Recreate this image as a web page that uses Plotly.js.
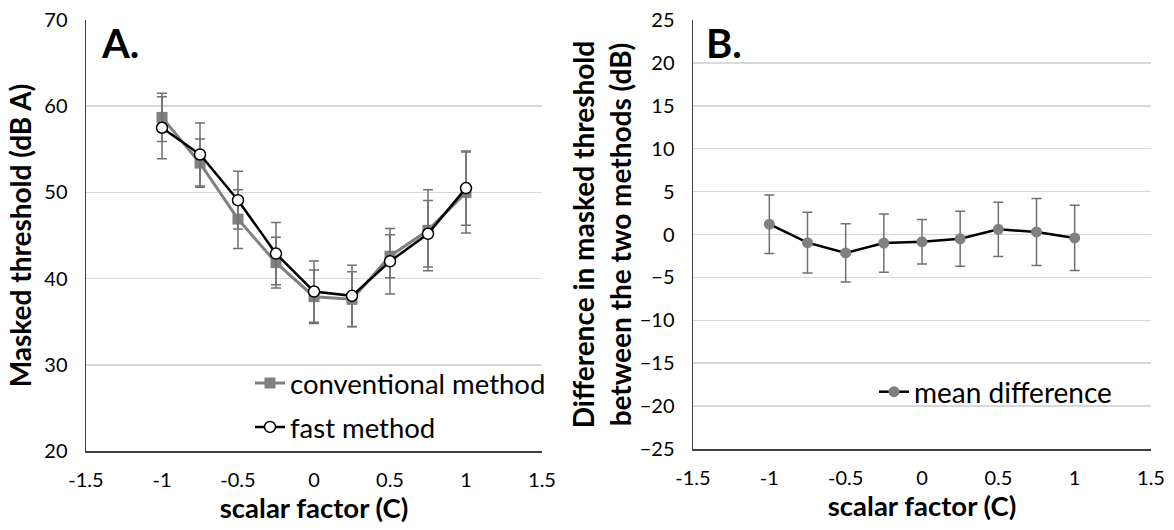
<!DOCTYPE html>
<html>
<head>
<meta charset="utf-8">
<script src="https://cdn.plot.ly/plotly-3.0.1.min.js"></script>
<style>html,body{margin:0;padding:0;background:#fff;}#chart{width:1174px;height:530px;}</style>
</head>
<body>
<div id="chart"></div>
<script>
// scalar factor C
const scalarFactor = [-1, -0.75, -0.5, -0.25, 0, 0.25, 0.5, 0.75, 1];
// Panel A: masked threshold (dB A)
const conventional = [58.7, 53.4, 46.9, 41.85, 37.9, 37.6, 42.6, 45.6, 50.0];
const conventionalErr = [2.8, 2.8, 3.4, 2.95, 3.1, 3.2, 2.5, 4.7, 4.7];
const fast = [57.5, 54.4, 49.1, 42.9, 38.5, 38.0, 42.0, 45.2, 50.5];
const fastErr = [3.6, 3.65, 3.35, 3.6, 3.55, 3.55, 3.8, 3.85, 4.3];
// Panel B: difference between the two methods (dB)
const meanDiff = [1.2, -0.95, -2.15, -1.0, -0.85, -0.5, 0.6, 0.3, -0.4];
const meanDiffErr = [3.4, 3.55, 3.4, 3.4, 2.6, 3.2, 3.15, 3.9, 3.8];
const xTicks = [-1.5, -1, -0.5, 0, 0.5, 1, 1.5];
const xTickText = ['-1.5', '-1', '-0.5', '0', '0.5', '1', '1.5'];

const FONT = 'Lato, Carlito, Calibri, sans-serif';
const errStyle = {type: 'data', visible: true, color: '#707070', thickness: 1.5, width: 5};

const traces = [
  {
    x: scalarFactor, y: conventional, name: 'conventional method',
    type: 'scatter', mode: 'lines+markers', xaxis: 'x', yaxis: 'y', legend: 'legend',
    line: {color: '#808080', width: 3},
    marker: {symbol: 'square', size: 11, color: '#808080'},
    error_y: Object.assign({array: conventionalErr}, errStyle)
  },
  {
    x: scalarFactor, y: fast, name: 'fast method',
    type: 'scatter', mode: 'lines+markers', xaxis: 'x', yaxis: 'y', legend: 'legend2',
    line: {color: '#000000', width: 2.5},
    marker: {symbol: 'circle', size: 11, color: '#ffffff', line: {color: '#000000', width: 1.5}},
    error_y: Object.assign({array: fastErr}, errStyle)
  },
  {
    x: scalarFactor, y: meanDiff, name: 'mean difference',
    type: 'scatter', mode: 'lines+markers', xaxis: 'x2', yaxis: 'y2', legend: 'legend3',
    line: {color: '#000000', width: 2.5},
    marker: {symbol: 'circle', size: 11, color: '#808080'},
    error_y: Object.assign({array: meanDiffErr}, errStyle)
  }
];

const axisX = {
  range: [-1.5, 1.5], tickvals: xTicks, ticktext: xTickText,
  showgrid: false, zeroline: false, showline: true, linecolor: '#404040', linewidth: 1.5,
  ticks: 'outside', ticklen: 10, tickcolor: 'rgba(0,0,0,0)',
  tickfont: {family: FONT, size: 20, color: '#000'},
  fixedrange: true
};
const axisY = {
  showgrid: true, gridcolor: '#d9d9d9', gridwidth: 1.5, zeroline: false,
  showline: true, linecolor: '#404040', linewidth: 1.5,
  ticks: 'outside', ticklen: 13, tickcolor: 'rgba(0,0,0,0)',
  tickfont: {family: FONT, size: 20, color: '#000'},
  fixedrange: true
};
const titleFontX = {family: FONT, size: 27.5, color: '#000', weight: 'bold'};
const titleFontY = {family: FONT, size: 28, color: '#000', weight: 'bold'};

const layout = {
  width: 1174, height: 530,
  margin: {l: 0, r: 0, t: 20, b: 79},
  paper_bgcolor: '#fff', plot_bgcolor: '#fff',
  font: {family: FONT, color: '#000'},
  xaxis: Object.assign({}, axisX, {domain: [86/1174, 542/1174], anchor: 'y',
    title: {text: 'scalar factor (C)', font: titleFontX, standoff: 4}}),
  yaxis: Object.assign({}, axisY, {domain: [0, 1], anchor: 'x', range: [20, 70], tickvals: [20, 30, 40, 50, 60, 70],
    title: {text: 'Masked threshold (dB A)', font: titleFontY, standoff: 4}}),
  xaxis2: Object.assign({}, axisX, {domain: [693/1174, 1151/1174], anchor: 'y2',
    title: {text: 'scalar factor (C)', font: titleFontX, standoff: 4}}),
  yaxis2: Object.assign({}, axisY, {domain: [2/431, 1], anchor: 'x2', range: [-25, 25],
    tickvals: [-25, -20, -15, -10, -5, 0, 5, 10, 15, 20, 25],
    title: {text: 'Difference in masked threshold<br>between the two methods (dB)', font: titleFontY, standoff: 0}}),
  showlegend: true,
  legend: {x: 250/1174, y: 1 - (383 - 20)/431, xanchor: 'left', yanchor: 'middle', bgcolor: 'rgba(0,0,0,0)',
    font: {family: FONT, size: 27.5, color: '#000'}, itemwidth: 30},
  legend2: {x: 250/1174, y: 1 - (427 - 20)/431, xanchor: 'left', yanchor: 'middle', bgcolor: 'rgba(0,0,0,0)',
    font: {family: FONT, size: 27.5, color: '#000'}, itemwidth: 30},
  legend3: {x: 874/1174, y: 1 - (392 - 20)/431, xanchor: 'left', yanchor: 'middle', bgcolor: 'rgba(0,0,0,0)',
    font: {family: FONT, size: 28, color: '#000'}, itemwidth: 30},
  annotations: [
    {text: '<b>A.</b>', xref: 'paper', yref: 'paper', x: 99/1174, y: 1 - (43 - 20)/431, xanchor: 'left', yanchor: 'middle',
      showarrow: false, font: {family: FONT, size: 40, color: '#000'}},
    {text: '<b>B.</b>', xref: 'paper', yref: 'paper', x: 704/1174, y: 1 - (43 - 20)/431, xanchor: 'left', yanchor: 'middle',
      showarrow: false, font: {family: FONT, size: 40, color: '#000'}}
  ]
};

Plotly.newPlot('chart', traces, layout, {displayModeBar: false, staticPlot: true});
</script>
</body>
</html>
